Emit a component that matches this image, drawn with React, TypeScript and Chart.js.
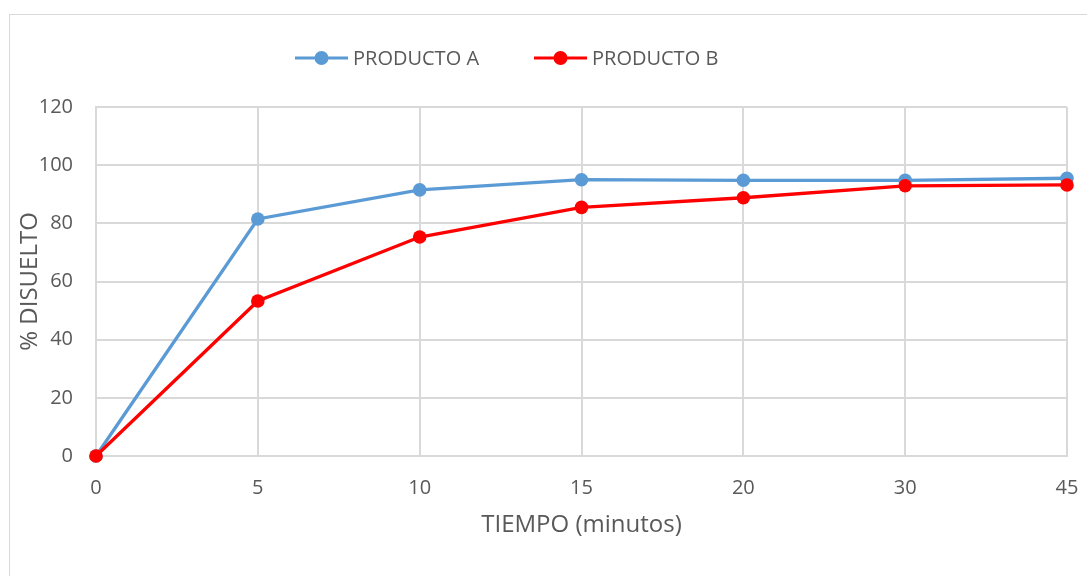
import { useEffect, useRef } from "react";
import { Chart, registerables } from "chart.js";

Chart.register(...registerables);

// Dissolution profile: % dissolved over time for two products
const minutes = ["0", "5", "10", "15", "20", "30", "45"];
const productA = [0, 81.5, 91.5, 95.0, 94.8, 94.8, 95.5];
const productB = [0, 53.3, 75.3, 85.5, 88.8, 92.9, 93.2];
const seriesNames = ["PRODUCTO A", "PRODUCTO B"];
const seriesColors = ["#5B9BD5", "#FF0000"];
const yAxisTitle = "% DISUELTO";
const xAxisTitle = "TIEMPO (minutos)";

const FONT = "'Open Sans', 'Noto Sans', sans-serif";
const TEXT = "#595959";
const GRID = "#d9d9d9";

// Legend drawn as "line - marker - line" samples followed by the label
const lineLegend = {
  id: "lineLegend",
  afterDraw(chart: any) {
    const ctx = chart.ctx as CanvasRenderingContext2D;
    const starts = [295, 534];
    const y = 58;
    const sampleWidth = 53;
    ctx.save();
    ctx.font = `20px ${FONT}`;
    ctx.textBaseline = "middle";
    ctx.textAlign = "left";
    chart.data.datasets.forEach((ds: any, i: number) => {
      const x0 = starts[i];
      ctx.strokeStyle = ds.borderColor;
      ctx.lineWidth = 3;
      ctx.beginPath();
      ctx.moveTo(x0, y);
      ctx.lineTo(x0 + sampleWidth, y);
      ctx.stroke();
      ctx.fillStyle = ds.borderColor;
      ctx.beginPath();
      ctx.arc(x0 + sampleWidth / 2, y, 7, 0, Math.PI * 2);
      ctx.fill();
      ctx.fillStyle = TEXT;
      ctx.fillText(ds.label, x0 + sampleWidth + 5, y + 1);
    });
    ctx.restore();
  },
};

export default function App() {
  const canvasRef = useRef<HTMLCanvasElement | null>(null);

  useEffect(() => {
    if (!canvasRef.current) return;
    const chart = new Chart(canvasRef.current, {
      type: "line",
      data: {
        labels: minutes,
        datasets: [
          {
            label: seriesNames[0],
            data: productA,
            borderColor: seriesColors[0],
            backgroundColor: seriesColors[0],
            pointBackgroundColor: seriesColors[0],
            pointBorderColor: seriesColors[0],
            borderWidth: 3.3,
            pointRadius: 6.8,
            pointBorderWidth: 0,
            tension: 0,
            clip: false,
            order: 2,
          },
          {
            label: seriesNames[1],
            data: productB,
            borderColor: seriesColors[1],
            backgroundColor: seriesColors[1],
            pointBackgroundColor: seriesColors[1],
            pointBorderColor: seriesColors[1],
            borderWidth: 3.3,
            pointRadius: 6.8,
            pointBorderWidth: 0,
            tension: 0,
            clip: false,
            order: 1,
          },
        ],
      },
      options: {
        animation: false,
        responsive: false,
        maintainAspectRatio: false,
        layout: { padding: { left: 0, top: 107, right: 20, bottom: 0 } },
        plugins: {
          legend: { display: false },
          tooltip: { enabled: false },
        },
        scales: {
          x: {
            type: "category",
            offset: false,
            grid: { color: GRID, lineWidth: 2, drawTicks: false },
            border: { color: GRID, width: 2 },
            ticks: {
              color: TEXT,
              font: { family: FONT, size: 20 },
              padding: 20,
              maxRotation: 0,
              autoSkip: false,
            },
            title: {
              display: true,
              text: xAxisTitle,
              color: TEXT,
              font: { family: FONT, size: 24 },
              padding: { top: 0, bottom: 36 },
            },
            afterFit(scale: any) {
              scale.height = 120;
              scale.paddingLeft = 0;
              scale.paddingRight = 0;
            },
          },
          y: {
            min: 0,
            max: 120,
            grid: { color: GRID, lineWidth: 2, drawTicks: false },
            border: { color: GRID, width: 2 },
            ticks: {
              stepSize: 20,
              color: TEXT,
              font: { family: FONT, size: 20 },
              padding: 23,
            },
            title: {
              display: true,
              text: yAxisTitle,
              color: TEXT,
              font: { family: FONT, size: 24 },
              padding: { top: 16, bottom: 0 },
            },
            afterFit(scale: any) {
              scale.width = 96;
            },
          },
        },
      },
      plugins: [lineLegend],
    });
    return () => chart.destroy();
  }, []);

  return (
    <div
      style={{
        position: "fixed",
        left: 0,
        top: 0,
        width: 1087,
        height: 576,
        overflow: "hidden",
        background: "#ffffff",
      }}
    >
      <div
        style={{
          position: "absolute",
          left: 9,
          top: 14,
          width: 1200,
          height: 700,
          border: `1px solid ${GRID}`,
          boxSizing: "border-box",
        }}
      />
      <canvas
        ref={canvasRef}
        width={1087}
        height={576}
        style={{ position: "absolute", left: 0, top: 0, width: 1087, height: 576 }}
      />
    </div>
  );
}
